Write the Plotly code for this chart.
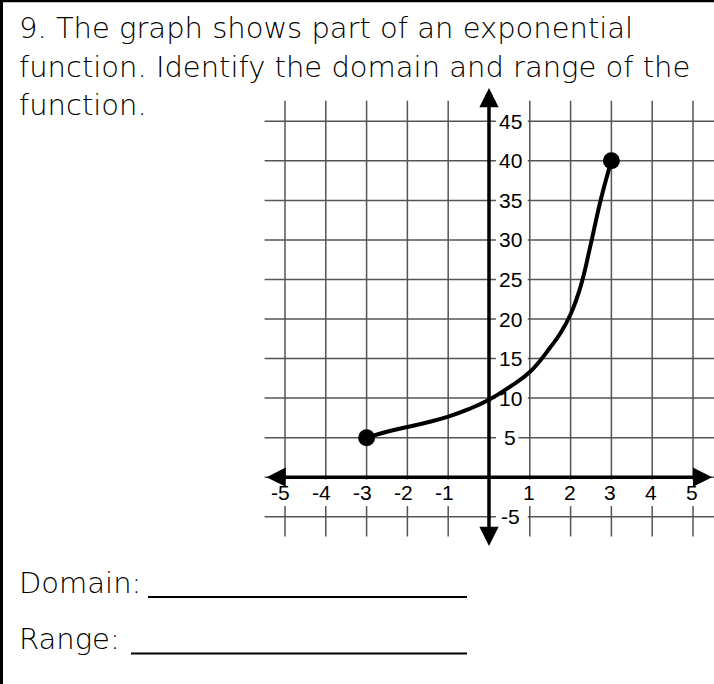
import plotly.graph_objects as go

# ---- data ----
x_tick_vals = [-5, -4, -3, -2, -1, 1, 2, 3, 4, 5]
x_tick_text = ["-5", "-4", "-3", "-2", "-1", "1", "2", "3", "4", "5"]
y_tick_vals = [-5, 5, 10, 15, 20, 25, 30, 35, 40, 45]
y_tick_text = ["-5", "5", "10", "15", "20", "25", "30", "35", "40", "45"]
grid_x = [-5, -4, -3, -2, -1, 0, 1, 2, 3, 4, 5]
grid_y = [-5, 0, 5, 10, 15, 20, 25, 30, 35, 40, 45]

curve_x = [-3, -2.5, -2, -1.5, -1, -0.5, 0, 0.5, 1, 1.5, 1.75, 2, 2.25, 2.5, 2.75, 3]
curve_y = [5, 5.75, 6.35, 6.95, 7.65, 8.6, 9.8, 11.4, 13.3, 16.4, 18.2, 20.6, 24.2, 29.6, 35.3, 40]
end_x = [-3, 3]
end_y = [5, 40]

question_lines = [
    "9. The graph shows part of an exponential",
    "function. Identify the domain and range of the",
    "function.",
]

W, H = 714, 684
# axis ranges so that the whole page is one coordinate system
X_RANGE = [-11.985, 5.515]
Y_RANGE = [-26.15, 60.34]

TEXT_FONT = dict(family="DejaVu Sans", size=29, color="black", weight=200)
TICK_FONT = dict(family="Liberation Sans", size=21, color="black")
GRID_COLOR = "#555555"

fig = go.Figure()

# exponential curve and its closed endpoints
fig.add_trace(go.Scatter(
    x=curve_x, y=curve_y, mode="lines",
    line=dict(color="black", width=4, shape="spline", smoothing=1.3),
    hoverinfo="skip", showlegend=False,
))
fig.add_trace(go.Scatter(
    x=end_x, y=end_y, mode="markers",
    marker=dict(color="black", size=17),
    hoverinfo="skip", showlegend=False,
))

shapes = []
# grid
for gx in grid_x:
    shapes.append(dict(type="line", xref="x", yref="y", x0=gx, x1=gx, y0=-7.5, y1=47.6,
                       line=dict(color=GRID_COLOR, width=1.5), layer="below"))
for gy in grid_y:
    shapes.append(dict(type="line", xref="x", yref="y", x0=-5.5, x1=5.6, y0=gy, y1=gy,
                       line=dict(color=GRID_COLOR, width=1.5), layer="below"))

# white backing behind tick labels
for v, t in zip(x_tick_vals, x_tick_text):
    shapes.append(dict(type="rect", xref="x", yref="y", x0=v - 0.4, x1=v + 0.3,
                       y0=-3.65, y1=-0.3, fillcolor="white", line=dict(width=0), layer="below"))
for v, t in zip(y_tick_vals, y_tick_text):
    right = 0.95 if len(t) == 2 else 0.72
    shapes.append(dict(type="rect", xref="x", yref="y", x0=0.17, x1=right,
                       y0=v - 1.2, y1=v + 1.2, fillcolor="white", line=dict(width=0), layer="below"))

# answer lines
shapes.append(dict(type="line", xref="paper", yref="paper", x0=148 / W, x1=467 / W,
                   y0=1 - 597 / H, y1=1 - 597 / H, line=dict(color="black", width=2)))
shapes.append(dict(type="line", xref="paper", yref="paper", x0=131 / W, x1=467 / W,
                   y0=1 - 653.5 / H, y1=1 - 653.5 / H, line=dict(color="black", width=2)))
# page border (top and left)
shapes.append(dict(type="line", xref="paper", yref="paper", x0=0, x1=1, y0=1 - 1 / H, y1=1 - 1 / H,
                   line=dict(color="black", width=2.5)))
shapes.append(dict(type="line", xref="paper", yref="paper", x0=1.5 / W, x1=1.5 / W, y0=0, y1=1,
                   line=dict(color="black", width=3)))

annotations = []
# axes with arrows at both ends
annotations.append(dict(x=0, y=49.2, ax=0, ay=-8.9, xref="x", yref="y", axref="x", ayref="y",
                        text="", showarrow=True, arrowside="end+start", arrowhead=2,
                        arrowsize=1.1, arrowwidth=3.5, arrowcolor="black", standoff=0, startstandoff=0))
annotations.append(dict(x=5.47, y=0, ax=-5.49, ay=0, xref="x", yref="y", axref="x", ayref="y",
                        text="", showarrow=True, arrowside="end+start", arrowhead=2,
                        arrowsize=1.1, arrowwidth=3.5, arrowcolor="black", standoff=0, startstandoff=0))

# tick labels
for v, t in zip(x_tick_vals, x_tick_text):
    annotations.append(dict(x=v, y=-1.95, xref="x", yref="y", text=t, showarrow=False,
                            xanchor="center", yanchor="middle", xshift=-4 if v < 0 else -1,
                            font=TICK_FONT))
for v, t in zip(y_tick_vals, y_tick_text):
    annotations.append(dict(x=0.515, y=v, xref="x", yref="y", text=t, showarrow=False,
                            xanchor="center", yanchor="middle", font=TICK_FONT))

# question text
line_centers = [28, 67, 105]
for txt, cy in zip(question_lines, line_centers):
    annotations.append(dict(x=17 / W, y=1 - cy / H, xref="paper", yref="paper", text=txt,
                            showarrow=False, xanchor="left", yanchor="middle", font=TEXT_FONT))
annotations.append(dict(x=17 / W, y=1 - 583 / H, xref="paper", yref="paper", text="Domain:",
                        showarrow=False, xanchor="left", yanchor="middle", font=TEXT_FONT))
annotations.append(dict(x=17 / W, y=1 - 639 / H, xref="paper", yref="paper", text="Range:",
                        showarrow=False, xanchor="left", yanchor="middle", font=TEXT_FONT))

fig.update_layout(
    width=W, height=H,
    margin=dict(l=0, r=0, t=0, b=0),
    paper_bgcolor="white", plot_bgcolor="white",
    xaxis=dict(range=X_RANGE, visible=False, fixedrange=True),
    yaxis=dict(range=Y_RANGE, visible=False, fixedrange=True),
    shapes=shapes, annotations=annotations,
    showlegend=False,
)

fig.write_html("out.html")
